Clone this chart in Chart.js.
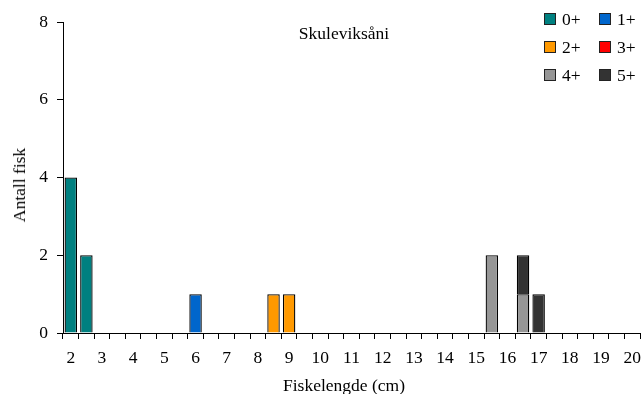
<!DOCTYPE html>
<html>
<head>
<meta charset="utf-8">
<script src="https://cdn.jsdelivr.net/npm/chart.js@4/dist/chart.umd.min.js"></script>
<style>
  html, body { margin: 0; padding: 0; background: #fff; }
  #wrap { position: relative; width: 644px; height: 394px; overflow: hidden; font-family: "Liberation Serif", "Times New Roman", serif; color: #000; }
  canvas { position: absolute; left: 0; top: 0; }
  .txt { position: absolute; font-size: 17.5px; line-height: 18px; white-space: nowrap; }
  .leg { position: absolute; font-size: 17.5px; line-height: 18px; white-space: nowrap; }
  .sw { position: absolute; width: 10px; height: 10px; border: 1px solid #222; }
</style>
</head>
<body>
<div id="wrap">
  <canvas id="c" width="644" height="394"></canvas>
  <div class="txt" id="title" style="left:344px; top:24px; transform:translateX(-50%);">Skuleviksåni</div>
  <div class="txt" id="xt" style="left:344px; top:376px; transform:translateX(-50%);">Fiskelengde (cm)</div>
  <div class="txt" id="yt" style="left:19px; top:185px; transform:translate(-50%,-50%) rotate(-90deg);">Antall fisk</div>
  <div id="legend"></div>
</div>
<script>
// Length classes (cm), half-centimetre bins
const categories = ["2","2.5","3","3.5","4","4.5","5","5.5","6","6.5","7","7.5","8","8.5","9","9.5","10","10.5","11","11.5","12","12.5","13","13.5","14","14.5","15","15.5","16","16.5","17","17.5","18","18.5","19","19.5","20"];
// Age groups
const ageGroups = ["0+","1+","2+","3+","4+","5+"];
const ageColors = ["#008080","#0066CC","#FF9900","#FF0000","#969696","#333333"];
// Counts per length class for each age group (null = none)
const age0 = [4,2,null,null,null,null,null,null,null,null,null,null,null,null,null,null,null,null,null,null,null,null,null,null,null,null,null,null,null,null,null,null,null,null,null,null,null];
const age1 = [null,null,null,null,null,null,null,null,1,null,null,null,null,null,null,null,null,null,null,null,null,null,null,null,null,null,null,null,null,null,null,null,null,null,null,null,null];
const age2 = [null,null,null,null,null,null,null,null,null,null,null,null,null,1,1,null,null,null,null,null,null,null,null,null,null,null,null,null,null,null,null,null,null,null,null,null,null];
const age3 = [null,null,null,null,null,null,null,null,null,null,null,null,null,null,null,null,null,null,null,null,null,null,null,null,null,null,null,null,null,null,null,null,null,null,null,null,null];
const age4 = [null,null,null,null,null,null,null,null,null,null,null,null,null,null,null,null,null,null,null,null,null,null,null,null,null,null,null,2,null,1,null,null,null,null,null,null,null];
const age5 = [null,null,null,null,null,null,null,null,null,null,null,null,null,null,null,null,null,null,null,null,null,null,null,null,null,null,null,null,null,1,1,null,null,null,null,null,null];
// Tick labels shown on the x axis (whole centimetres)
const xTickLabels = ["2","3","4","5","6","7","8","9","10","11","12","13","14","15","16","17","18","19","20"];
const yTicks = [0,2,4,6,8];

const seriesValues = [age0, age1, age2, age3, age4, age5];

// HTML legend (2 columns x 3 rows)
const legend = document.getElementById('legend');
ageGroups.forEach((g, i) => {
  const col = i % 2, row = Math.floor(i / 2);
  const left = 544 + col * 55, top = 13 + row * 28;
  const sw = document.createElement('div');
  sw.className = 'sw';
  sw.style.left = left + 'px'; sw.style.top = top + 'px';
  sw.style.background = ageColors[i];
  legend.appendChild(sw);
  const t = document.createElement('div');
  t.className = 'leg';
  t.style.left = (left + 18) + 'px'; t.style.top = (top - 3) + 'px';
  t.textContent = g;
  legend.appendChild(t);
});

const font = { family: '"Liberation Serif", "Times New Roman", serif', size: 17.5 };

new Chart(document.getElementById('c'), {
  type: 'bar',
  data: {
    labels: categories,
    datasets: ageGroups.map((g, i) => ({
      label: g,
      data: seriesValues[i],
      backgroundColor: ageColors[i],
      borderColor: '#000',
      borderWidth: 1.3,
      barPercentage: 0.8,
      categoryPercentage: 1.0
    }))
  },
  options: {
    responsive: false,
    animation: false,
    devicePixelRatio: 1,
    layout: { padding: { top: 22, right: 4, left: 0, bottom: 0 } },
    plugins: { legend: { display: false }, tooltip: { enabled: false }, title: { display: false } },
    scales: {
      x: {
        stacked: true,
        grid: { display: true, drawOnChartArea: false, drawTicks: true, tickLength: 6, color: '#000', offset: true },
        border: { display: true, color: '#000', width: 1 },
        ticks: {
          autoSkip: false, maxRotation: 0, minRotation: 0, color: '#000', font: font, padding: 9,
          callback: function(v, idx) {
            const l = categories[idx];
            return xTickLabels.includes(l) ? l : '';
          }
        },
        afterFit: function(s) { s.height = 61; s.paddingLeft = 0; s.paddingRight = 0; }
      },
      y: {
        stacked: true,
        min: 0, max: 8,
        afterBuildTicks: function(s) { s.ticks = yTicks.map(v => ({ value: v })); },
        grid: { display: true, drawOnChartArea: false, drawTicks: true, tickLength: 6, color: '#000' },
        border: { display: true, color: '#000', width: 1 },
        ticks: { color: '#000', font: font, padding: 9 },
        afterFit: function(s) { s.width = 63; s.paddingTop = 0; s.paddingBottom = 0; }
      }
    }
  }
});
</script>
</body>
</html>
